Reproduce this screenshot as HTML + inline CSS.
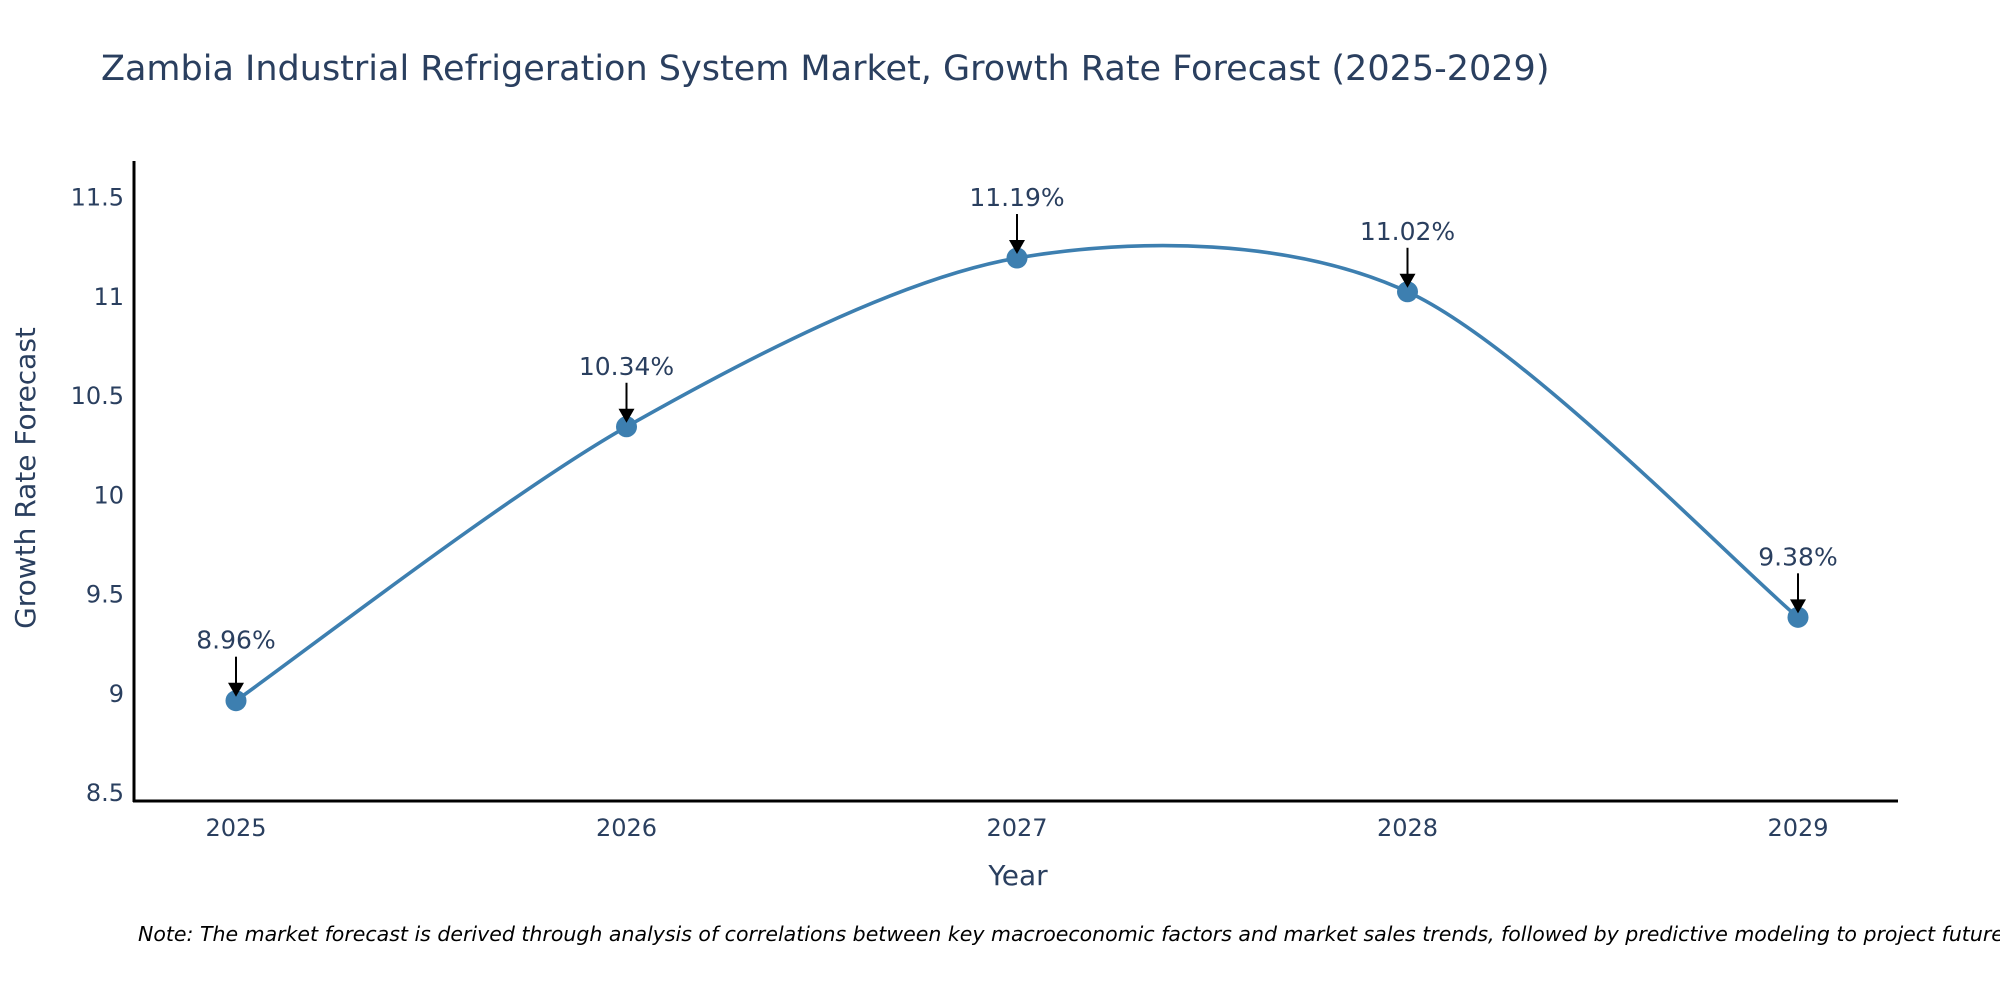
<!DOCTYPE html>
<html><head><meta charset="utf-8"><style>
body{margin:0;background:#fff;overflow:hidden;}
svg{display:block;font-family:"DejaVu Sans","Liberation Sans",sans-serif;}
</style></head><body>
<svg id="chart" width="2000" height="1000" viewBox="0 0 2000 1000">
<text x="101" y="80" font-size="35" fill="#2a3f5f">Zambia Industrial Refrigeration System Market, Growth Rate Forecast (2025-2029)</text>
<g id="yticks"></g><g id="xticks"></g>
<path id="line" fill="none" stroke="#3d7fb0" stroke-width="3.6"/>
<g id="points"></g>
<line x1="134" y1="161" x2="134" y2="802" stroke="#000" stroke-width="3"/>
<line x1="133" y1="801" x2="1898" y2="801" stroke="#000" stroke-width="3"/>
<text transform="translate(35,478) rotate(-90)" text-anchor="middle" font-size="28" fill="#2a3f5f">Growth Rate Forecast</text>
<text x="1018" y="885" text-anchor="middle" font-size="28" fill="#2a3f5f">Year</text>
<text x="138" y="941" font-size="20.5" font-style="italic" fill="#000">Note: The market forecast is derived through analysis of correlations between key macroeconomic factors and market sales trends, followed by predictive modeling to project future sales</text>
</svg>
<script>
const years=[2025,2026,2027,2028,2029];
const values=[8.96,10.34,11.19,11.02,9.38];
const labels=["8.96%","10.34%","11.19%","11.02%","9.38%"];
const yTicks=[8.5,9,9.5,10,10.5,11,11.5];
const yTickLabels=["8.5","9","9.5","10","10.5","11","11.5"];
const NS="http://www.w3.org/2000/svg";
const xs=v=>236+(v-2025)*390.5;
const ys=v=>792-(v-8.5)*198.5;
function mk(t,a,p){const e=document.createElementNS(NS,t);for(const k in a)e.setAttribute(k,a[k]);p.appendChild(e);return e;}
const yt=document.getElementById('yticks');
yTicks.forEach((v,i)=>{const t=mk('text',{x:124,y:ys(v)+9,'text-anchor':'end','font-size':'24',fill:'#2a3f5f'},yt);t.textContent=yTickLabels[i];

});
const xt=document.getElementById('xticks');
years.forEach(y=>{const t=mk('text',{x:xs(y),y:836,'text-anchor':'middle','font-size':'24',fill:'#2a3f5f'},xt);t.textContent=String(y);

});
const P=years.map((y,i)=>[xs(y),ys(values[i])]);
let d=`M${P[0][0]},${P[0][1]}`;const s=0.3;
for(let i=0;i<P.length-1;i++){const p0=P[Math.max(0,i-1)],p1=P[i],p2=P[i+1],p3=P[Math.min(P.length-1,i+2)];
const c1=[p1[0]+(p2[0]-p0[0])*s/2,p1[1]+(p2[1]-p0[1])*s/2],c2=[p2[0]-(p3[0]-p1[0])*s/2,p2[1]-(p3[1]-p1[1])*s/2];
d+=` C${c1[0]},${c1[1]} ${c2[0]},${c2[1]} ${p2[0]},${p2[1]}`;}
document.getElementById('line').setAttribute('d',d);
const pg=document.getElementById('points');
P.forEach((p,i)=>{const c=mk('circle',{cx:p[0],cy:p[1],r:10.5,fill:'#3d7fb0'},pg);


const l=mk('line',{x1:p[0],y1:p[1]-44,x2:p[0],y2:p[1]-16,stroke:'#000','stroke-width':'2'},pg);


const h=mk('polygon',{points:`${p[0]-8},${p[1]-18} ${p[0]+8},${p[1]-18} ${p[0]},${p[1]-4}`,fill:'#000'},pg);


const t=mk('text',{x:p[0],y:p[1]-52,'text-anchor':'middle','font-size':'25',fill:'#2a3f5f'},pg);t.textContent=labels[i];

});
</script>
</body></html>
